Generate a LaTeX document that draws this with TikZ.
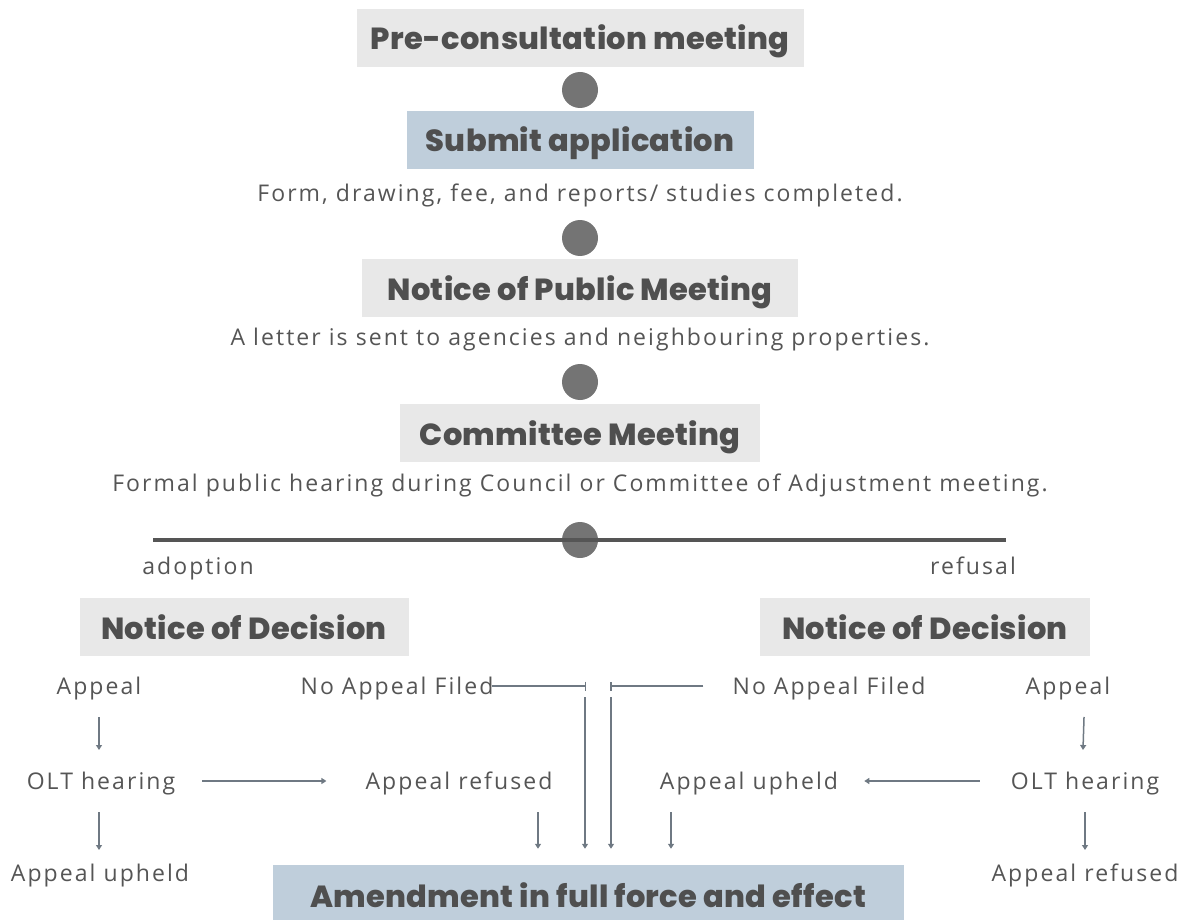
\documentclass[tikz,border=0pt]{standalone}
\usepackage{fontspec}
\setmainfont{Open Sans}[LetterSpace=9]
\newfontfamily\headfont{Poppins}[BoldFont=* ExtraBold,LetterSpace=1]
\usetikzlibrary{arrows.meta}
\definecolor{boxgray}{HTML}{E8E8E8}
\definecolor{boxblue}{HTML}{BFCEDB}
\definecolor{dotgray}{HTML}{747474}
\definecolor{inkgray}{HTML}{555555}
\definecolor{headgray}{HTML}{4F4F4F}
\definecolor{arrgray}{HTML}{6F7983}
\tikzset{
	head/.style={font=\headfont\bfseries\fontsize{30.5}{34}\selectfont,text=headgray,minimum height=58pt,inner sep=0pt,text height=24pt,text depth=0pt},
	graybox/.style={head,fill=boxgray},
	bluebox/.style={head,fill=boxblue},
	note/.style={font=\fontsize{23}{27}\selectfont,text=inkgray,inner sep=0pt,text height=16pt,text depth=0pt},
	dot/.style={circle,fill=dotgray,minimum size=36pt,inner sep=0pt},
	link/.style={draw=arrgray,line width=1.5pt},
	arr/.style={link,-{Triangle[length=5pt,width=6pt]}},
}
\begin{document}
\begin{tikzpicture}[x=1pt,y=-1pt]
		\useasboundingbox (0,0) rectangle (1188,920);
		\clip (0,0) rectangle (1188,920);
		% main line
		\node[graybox,minimum width=447pt] (pre) at (580,38) {Pre-consultation meeting};
		\node[dot] (d1) at (580,90) {};
		\node[bluebox,minimum width=347pt] (sub) at (580,140) {Submit application};
		\node[note] (subT) at (580,193) {Form, drawing, fee, and reports/ studies completed.};
		\node[dot] (d2) at (580,238) {};
		\node[graybox,minimum width=436pt] (pub) at (580,288) {Notice of Public Meeting};
		\node[note] (pubT) at (580,337) {A letter is sent to agencies and neighbouring properties.};
		\node[dot] (d3) at (580,382) {};
		\node[graybox,minimum width=360pt] (com) at (580,433) {Committee Meeting};
		\node[note] (comT) at (580,483) {Formal public hearing during Council or Committee of Adjustment meeting.};
		\node[dot] (d4) at (580,540) {};
		\coordinate (bL) at (153,540);
		\coordinate (bR) at (1006,540);
		\draw [line width=4pt,draw=inkgray] (bL) to (bR);
		\node[note] (adop) at (198,566) {adoption};
		\node[note] (refu) at (973,566) {refusal};
		% decisions
		\node[graybox,minimum width=329pt] (decL) at (244,627) {Notice of Decision};
		\node[graybox,minimum width=330pt] (decR) at (925,627) {Notice of Decision};
		\node[note] (appL) at (99,686) {Appeal};
		\node[note] (noL) at (397,686) {No Appeal Filed};
		\node[note] (noR) at (829,686) {No Appeal Filed};
		\node[note] (appR) at (1068,686) {Appeal};
		\node[note] (oltL) at (101,781) {OLT hearing};
		\node[note] (refL) at (459,781) {Appeal refused};
		\node[note] (upR) at (749,781) {Appeal upheld};
		\node[note] (oltR) at (1085,781) {OLT hearing};
		\node[note] (upL) at (100,873) {Appeal upheld};
		\node[note] (refR) at (1085,873) {Appeal refused};
		\node[bluebox,minimum width=631pt,minimum height=60pt] (amd) at (588,895) {Amendment in full force and effect};
		\coordinate (jL) at (586,686);
		\coordinate (jR) at (610,686);
		% connectors
		\draw [link,-{Bar[width=9pt]},shorten <=-2pt] (noL.east) to (jL);
		\draw [link,-{Bar[width=9pt]},shorten <=29pt] (noR.west) to (jR);
		\draw [arr,shorten <=11pt,shorten >=16pt] ([xshift=-1pt]jL) to ([xshift=-1pt]jL |- amd.north);
		\draw [arr,shorten <=11pt,shorten >=16pt] ([xshift=1pt]jR) to ([xshift=1pt]jR |- amd.north);
		\draw [arr,shorten <=31pt,shorten >=31pt] (appL.center) to (appL.center |- oltL.center);
		\draw [arr,shorten <=31pt,shorten >=23pt] (appL.center |- oltL.center) to (appL.center |- upL.center);
		\draw [arr,shorten <=27pt,shorten >=39pt] (oltL.east) to (refL.west);
		\draw [arr,shorten <=31pt,shorten >=16pt] ([xshift=79pt]refL.center) to ([xshift=79pt]refL.center |- amd.north);
		\draw [arr,shorten <=31pt,shorten >=31pt] (oltR.center |- appR.center) to ([xshift=-3pt]oltR.center);
		\draw [arr,shorten <=31pt,shorten >=23pt] (oltR.center) to (oltR.center |- refR.center);
		\draw [arr,shorten <=31pt,shorten >=26pt] (oltR.west) to (upR.east);
		\draw [arr,shorten <=31pt,shorten >=16pt] ([xshift=-78pt]upR.center) to ([xshift=-78pt]upR.center |- amd.north);
	\end{tikzpicture}
\end{document}
